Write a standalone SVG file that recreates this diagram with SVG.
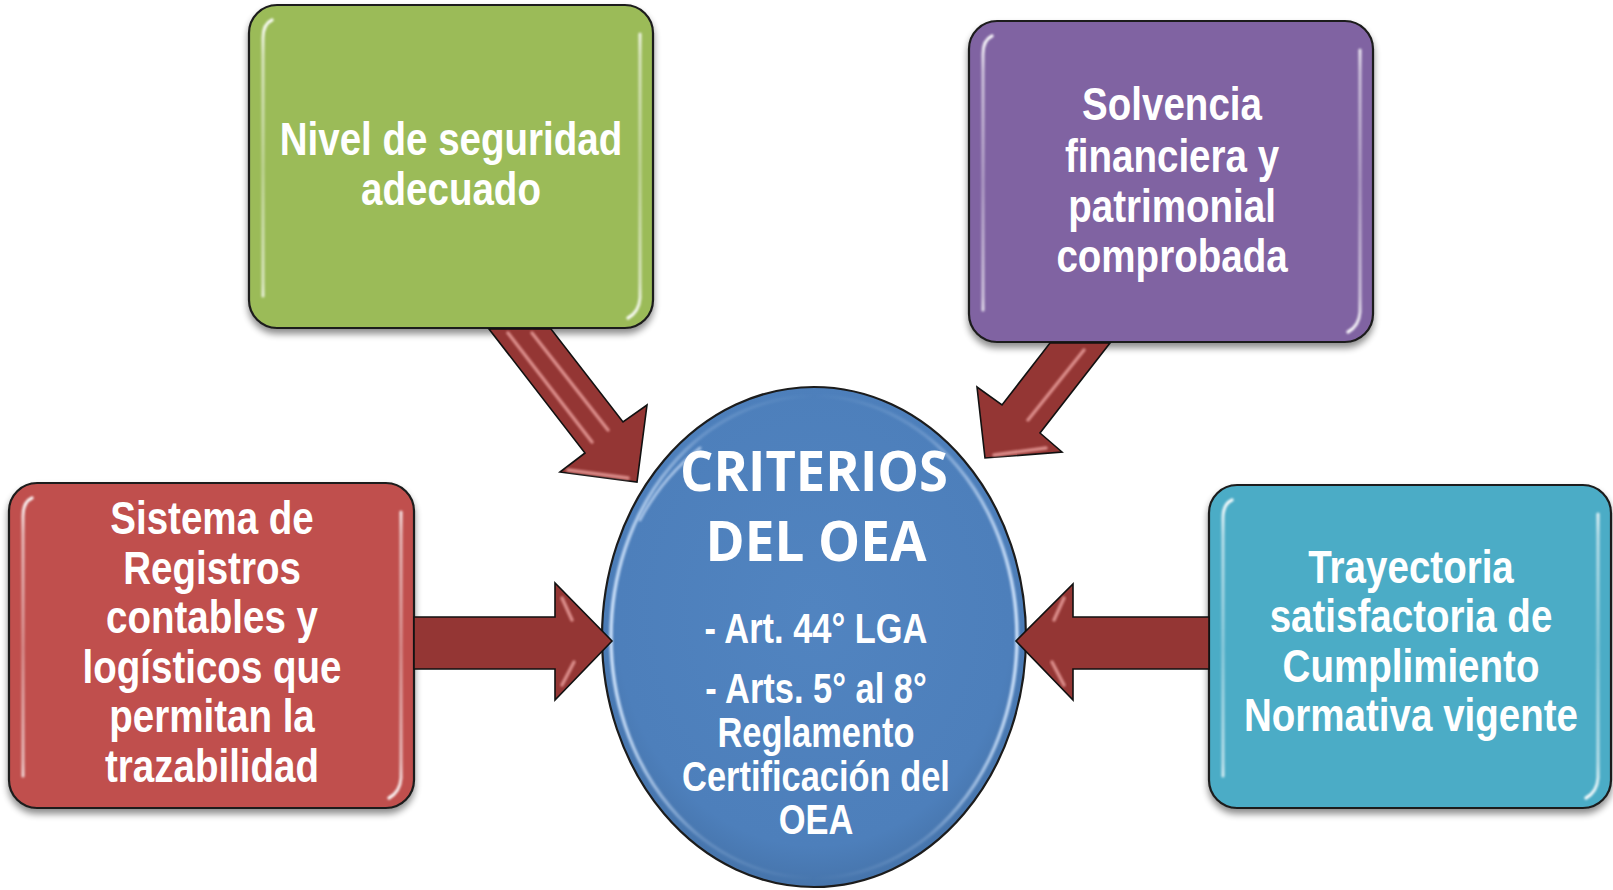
<svg xmlns="http://www.w3.org/2000/svg" width="1613" height="890" viewBox="0 0 1613 890">
<defs>
<style>
.box{stroke:#1c1c1c;stroke-width:2.2}
.lbl{font-family:"Liberation Sans",Arial,sans-serif;font-weight:bold;font-size:47px;fill:#fff;text-anchor:middle}
.lbl2{font-family:"Liberation Sans",Arial,sans-serif;font-weight:bold;font-size:42px;fill:#fff;text-anchor:middle}
.ttl{font-family:"Open Sans",Lato,sans-serif;font-weight:bold;font-size:55px;fill:#fff;text-anchor:middle}
.gl{fill:none;stroke:url(#glg);stroke-width:3.2;stroke-linecap:round}
.arr{fill:#943634;stroke:#111;stroke-width:1.6;stroke-linejoin:miter}
.ahl{fill:none;stroke:#f2a9a6;stroke-width:3.5;stroke-linecap:round;opacity:.75}
</style>
<filter id="sh" x="-10%" y="-10%" width="120%" height="130%">
<feGaussianBlur in="SourceAlpha" stdDeviation="3.5"/>
<feOffset dy="5" result="o"/>
<feComponentTransfer in="o" result="s"><feFuncA type="linear" slope="0.45"/></feComponentTransfer>
<feMerge><feMergeNode in="s"/><feMergeNode in="SourceGraphic"/></feMerge>
</filter>
<filter id="bl" x="-20%" y="-20%" width="140%" height="140%"><feGaussianBlur stdDeviation="0.9"/></filter>
<linearGradient id="glg" x1="0" y1="0" x2="0" y2="1">
<stop offset="0" stop-color="#fff" stop-opacity="0.95"/>
<stop offset="0.12" stop-color="#fff" stop-opacity="0.6"/>
<stop offset="0.5" stop-color="#fff" stop-opacity="0.35"/>
<stop offset="0.88" stop-color="#fff" stop-opacity="0.6"/>
<stop offset="1" stop-color="#fff" stop-opacity="0.95"/>
</linearGradient>
<radialGradient id="eg" cx="0.5" cy="0.45" r="0.55">
<stop offset="0" stop-color="#5184c0"/>
<stop offset="0.85" stop-color="#4d7fbb"/>
<stop offset="1" stop-color="#4674ab"/>
</radialGradient>
<linearGradient id="rim" x1="0" y1="0" x2="1" y2="0">
<stop offset="0" stop-color="#cfe3fb" stop-opacity="0.95"/>
<stop offset="0.22" stop-color="#cfe3fb" stop-opacity="0.2"/>
<stop offset="0.5" stop-color="#cfe3fb" stop-opacity="0"/>
<stop offset="0.78" stop-color="#cfe3fb" stop-opacity="0.2"/>
<stop offset="1" stop-color="#cfe3fb" stop-opacity="0.95"/>
</linearGradient>
</defs>
<rect width="1613" height="890" fill="#fff"/>

<g id="node-nivel">
<rect class="box" x="249" y="5" width="404" height="323" rx="28" fill="#9bbb59" filter="url(#sh)"/>
<path class="gl" filter="url(#bl)" d="M263 38 Q263 24 272 20 M263 38 L263 296 M640 34 L640 298 Q639 312 628 318"/>
<g transform="translate(451,0) scale(0.82,1)">
<text class="lbl" x="0" y="155">Nivel de seguridad</text>
<text class="lbl" x="0" y="205">adecuado</text>
</g>
</g>

<g id="node-solvencia">
<rect class="box" x="969" y="21" width="404" height="321" rx="28" fill="#8064a2" filter="url(#sh)"/>
<path class="gl" filter="url(#bl)" d="M983 54 Q983 40 992 36 M983 54 L983 310 M1360 50 L1360 312 Q1359 326 1348 332"/>
<g transform="translate(1172,0) scale(0.82,1)">
<text class="lbl" x="0" y="120">Solvencia</text>
<text class="lbl" x="0" y="172">financiera y</text>
<text class="lbl" x="0" y="222">patrimonial</text>
<text class="lbl" x="0" y="272">comprobada</text>
</g>
</g>

<g id="node-sistema">
<rect class="box" x="9" y="483" width="405" height="325" rx="28" fill="#c0504d" filter="url(#sh)"/>
<path class="gl" filter="url(#bl)" d="M23 516 Q23 502 32 498 M23 516 L23 776 M401 512 L401 778 Q400 792 389 798"/>
<g transform="translate(212,0) scale(0.82,1)">
<text class="lbl" x="0" y="534">Sistema de</text>
<text class="lbl" x="0" y="584">Registros</text>
<text class="lbl" x="0" y="633">contables y</text>
<text class="lbl" x="0" y="683">logísticos que</text>
<text class="lbl" x="0" y="732">permitan la</text>
<text class="lbl" x="0" y="782">trazabilidad</text>
</g>
</g>

<g id="node-trayectoria">
<rect class="box" x="1209" y="485" width="402" height="323" rx="28" fill="#4bacc6" filter="url(#sh)"/>
<path class="gl" filter="url(#bl)" d="M1223 518 Q1223 504 1232 500 M1223 518 L1223 776 M1598 514 L1598 778 Q1597 792 1586 798"/>
<g transform="translate(1411,0) scale(0.82,1)">
<text class="lbl" x="0" y="583">Trayectoria</text>
<text class="lbl" x="0" y="632">satisfactoria de</text>
<text class="lbl" x="0" y="682">Cumplimiento</text>
<text class="lbl" x="0" y="731">Normativa vigente</text>
</g>
</g>

<g id="node-criterios">
<ellipse cx="814" cy="637" rx="212" ry="250" fill="url(#eg)" stroke="#1c1c1c" stroke-width="2.2"/>
<ellipse cx="814" cy="637" rx="203" ry="241" fill="none" stroke="url(#rim)" stroke-width="3.5" filter="url(#bl)"/>
<path d="M640 520 Q662 478 700 448" fill="none" stroke="#d8e9ff" stroke-width="3" stroke-linecap="round" opacity="0.6" filter="url(#bl)"/>
<text class="ttl" x="814" y="491" textLength="268" lengthAdjust="spacingAndGlyphs">CRITERIOS</text>
<text class="ttl" x="816" y="561" textLength="221" lengthAdjust="spacingAndGlyphs">DEL OEA</text>
<g transform="translate(816,0) scale(0.82,1)">
<text class="lbl2" x="0" y="643">- Art. 44° LGA</text>
<text class="lbl2" x="0" y="703">- Arts. 5° al 8°</text>
<text class="lbl2" x="0" y="747">Reglamento</text>
<text class="lbl2" x="0" y="791">Certificación del</text>
<text class="lbl2" x="0" y="834">OEA</text>
</g>
</g>

<g id="connectors">
<polygon class="arr" points="489,329 551,329 623,422 647,405 637,482 560,472 585,453"/>
<path class="ahl" filter="url(#bl)" d="M508 333 L592 442 M532 333 L608 430 M568 470 L628 478"/>
<polygon class="arr" points="1050,343 1110,343 1040,433 1062,452 985,458 977,387 1002,405"/>
<path class="ahl" filter="url(#bl)" d="M1084 350 L1028 420 M994 455 L1046 448" opacity="0.55"/>
<polygon class="arr" points="414,617 555,617 555,583 612,641 555,700 555,669 414,669"/>
<path class="ahl" filter="url(#bl)" d="M562 598 L572 620 M562 685 L574 662" opacity="0.55"/>
<polygon class="arr" points="1209,617 1073,617 1073,584 1016,641 1073,700 1073,669 1209,669"/>
<path class="ahl" filter="url(#bl)" d="M1064 598 L1054 620 M1064 685 L1052 662" opacity="0.55"/>
</g>
</svg>
